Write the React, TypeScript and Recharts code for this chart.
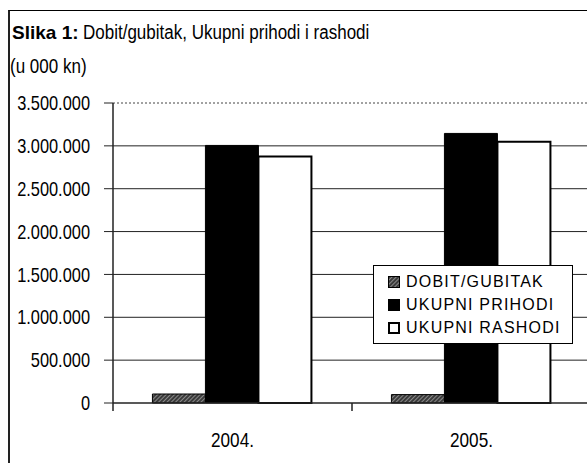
import { Bar, BarChart, CartesianGrid, Legend, ReferenceLine, XAxis, YAxis } from "recharts";

const categories = ["2004.", "2005."];
const dobitGubitak = [105000, 98000];
const ukupniPrihodi = [3005000, 3145000];
const ukupniRashodi = [2876000, 3047000];
const yTicks = [0, 500000, 1000000, 1500000, 2000000, 2500000, 3000000, 3500000];

const FONT = '"Liberation Sans", Arial, sans-serif';
const NARROW = 0.82;

const data = categories.map((year, i) => ({
  year,
  dobit: dobitGubitak[i],
  prihodi: ukupniPrihodi[i],
  rashodi: ukupniRashodi[i],
}));

const fmt = (v: number) => String(v).replace(/\B(?=(\d{3})+(?!\d))/g, ".");

// condensed tick labels (no Arial Narrow available, so squeeze Liberation Sans)
function YTick(props: any) {
  const { x, y, payload } = props;
  return (
    <g transform={`translate(${x},${y})`}>
      <text transform={`scale(${NARROW},1)`} textAnchor="end" dy="0.36em" fontFamily={FONT} fontSize={20} fill="#000">
        {fmt(payload.value)}
      </text>
    </g>
  );
}

// category label + tick marks on the category boundaries (Excel style)
function XTick(props: any) {
  const { x, y, payload, index } = props;
  const half = payload.offset || 0;
  return (
    <g>
      {index === 0 && <line x1={x - half} y1={y} x2={x - half} y2={y + 8} stroke="#222" strokeWidth={1.5} />}
      <line x1={x + half} y1={y} x2={x + half} y2={y + 8} stroke="#222" strokeWidth={1.5} />
      <g transform={`translate(${x},${y + 30})`}>
        <text transform="scale(0.86,1)" textAnchor="middle" dy="0.71em" fontFamily={FONT} fontSize={20} fill="#000">
          {payload.value}
        </text>
      </g>
    </g>
  );
}

function Marker({ kind }: { kind: string }) {
  return (
    <svg width={12} height={12} style={{ marginRight: 6, flex: "none" }}>
      {kind === "dobit" && <rect x={0.5} y={0.5} width={11} height={11} fill="url(#hatch)" stroke="#000" />}
      {kind === "prihodi" && <rect x={0.5} y={0.5} width={11} height={11} fill="#000" stroke="#000" />}
      {kind === "rashodi" && <rect x={1} y={1} width={10} height={10} fill="#fff" stroke="#000" strokeWidth={2} />}
    </svg>
  );
}

const LEGEND_ITEMS = [
  { key: "dobit", label: "DOBIT/GUBITAK" },
  { key: "prihodi", label: "UKUPNI PRIHODI" },
  { key: "rashodi", label: "UKUPNI RASHODI" },
];

function LegendBox() {
  return (
    <div
      style={{
        width: 184,
        padding: "4px 0 4px 14px",
        background: "#fff",
        border: "1px solid #000",
        fontFamily: FONT,
        fontSize: 16,
        letterSpacing: 1.2,
        color: "#000",
      }}
    >
      {LEGEND_ITEMS.map((it) => (
        <div key={it.key} style={{ display: "flex", alignItems: "center", height: 23, whiteSpace: "nowrap" }}>
          <Marker kind={it.key} />
          <span>{it.label}</span>
        </div>
      ))}
    </div>
  );
}

const narrowText = {
  display: "inline-block",
  transform: "scaleX(0.85)",
  transformOrigin: "left center",
  whiteSpace: "nowrap" as const,
};

export default function App() {
  return (
    <div style={{ position: "relative", width: 587, height: 463, overflow: "hidden", background: "#fff" }}>
      <style>{"body{margin:0;overflow:hidden}"}</style>
      <div
        style={{
          position: "absolute",
          left: 8,
          top: 10,
          width: 620,
          height: 500,
          borderLeft: "2px solid #222",
          borderTop: "1px solid #000",
        }}
      />
      <div style={{ position: "absolute", left: 12, top: 21, fontFamily: FONT, fontSize: 20, color: "#000", whiteSpace: "nowrap", display: "flex", alignItems: "baseline" }}>
        <b style={{ marginRight: 4, fontSize: 19 }}>Slika 1:</b>
        <span style={narrowText}>Dobit/gubitak, Ukupni prihodi i rashodi</span>
      </div>
      <div style={{ position: "absolute", left: 10, top: 55, fontFamily: FONT, fontSize: 20, color: "#000" }}>
        <span style={narrowText}>(u 000 kn)</span>
      </div>
      <div style={{ position: "absolute", left: 0, top: 0 }}>
        <BarChart
          width={600}
          height={463}
          data={data}
          margin={{ top: 103, right: 9, bottom: 0, left: 0 }}
          barCategoryGap="16.5%"
          barGap={0}
        >
          <defs>
            <pattern id="hatch" width="3" height="3" patternUnits="userSpaceOnUse" patternTransform="rotate(45)">
              <rect width="3" height="3" fill="#3a3a3a" />
              <line x1="0" y1="0" x2="0" y2="3" stroke="#d8d8d8" strokeWidth="1" />
            </pattern>
          </defs>
          <CartesianGrid vertical={false} stroke="#222" horizontalValues={[500000, 1000000, 1500000, 2000000, 2500000, 3000000]} />
          <XAxis
            dataKey="year"
            axisLine={{ stroke: "#222", strokeWidth: 1.5 }}
            tickLine={false}
            tickSize={0}
            tickMargin={0}
            height={60}
            tick={<XTick />}
          />
          <YAxis
            type="number"
            domain={[0, 3500000]}
            ticks={yTicks}
            interval={0}
            width={113}
            tickSize={9}
            tickMargin={14}
            stroke="#222"
            axisLine={{ stroke: "#222", strokeWidth: 1.5 }}
            tick={<YTick />}
          />
          <ReferenceLine y={3500000} stroke="#444" strokeDasharray="2 2" />
          <Legend
            layout="vertical"
            verticalAlign="middle"
            align="center"
            wrapperStyle={{ left: 373, top: 265, width: "auto" }}
            content={() => <LegendBox />}
          />
          <Bar dataKey="dobit" fill="url(#hatch)" stroke="#000" strokeWidth={1} isAnimationActive={false} />
          <Bar dataKey="prihodi" fill="#000" stroke="#000" strokeWidth={1} isAnimationActive={false} />
          <Bar dataKey="rashodi" fill="#fff" stroke="#000" strokeWidth={2} isAnimationActive={false} />
        </BarChart>
      </div>
    </div>
  );
}
